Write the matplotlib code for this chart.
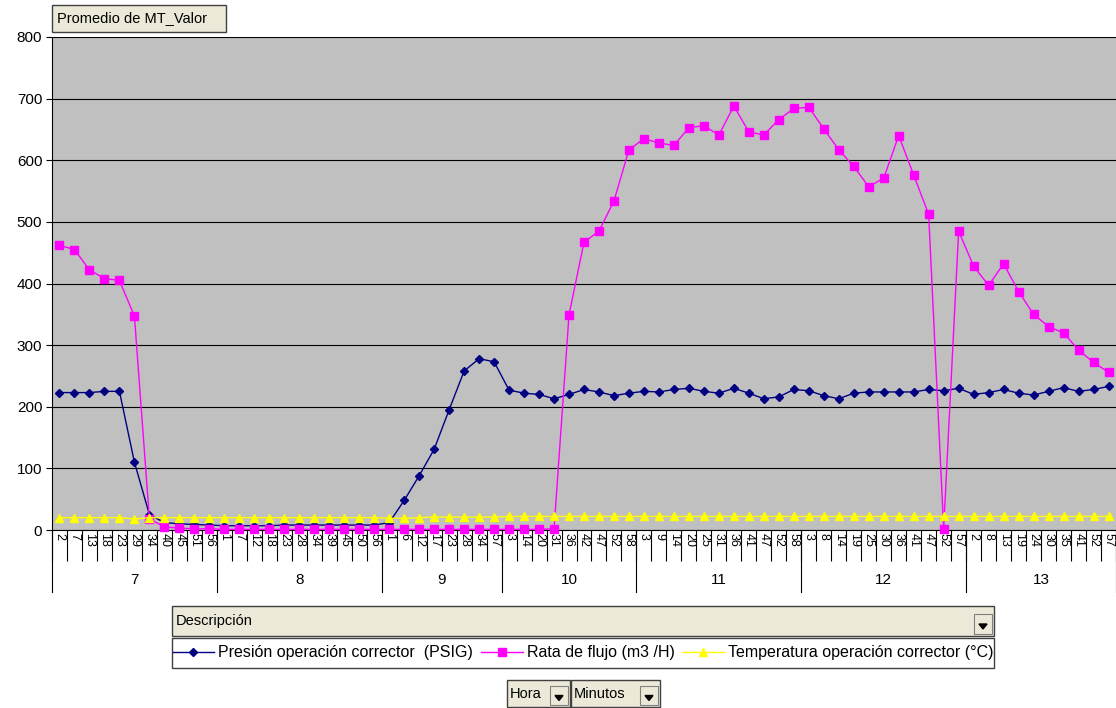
import matplotlib
matplotlib.use('Agg')
import matplotlib.pyplot as plt
from matplotlib.patches import Rectangle, Polygon
from matplotlib.lines import Line2D
import matplotlib.transforms as mtransforms

plt.rcParams['font.family'] = ['Liberation Sans', 'DejaVu Sans']

# datos del grafico dinamico (hora / minutos)
horas = [7] * 11 + [8] * 11 + [9] * 8 + [10] * 9 + [11] * 11 + [12] * 11 + [13] * 10
minutos = [2, 7, 13, 18, 23, 29, 34, 40, 45, 51, 56,
           1, 7, 12, 18, 23, 28, 34, 39, 45, 50, 56,
           1, 6, 12, 17, 23, 28, 34, 57,
           3, 14, 20, 31, 36, 42, 47, 52, 58,
           3, 9, 14, 20, 25, 31, 36, 41, 47, 52, 58,
           3, 8, 14, 19, 25, 30, 36, 41, 47, 52, 57,
           2, 8, 13, 19, 24, 30, 35, 41, 52, 57]

presion = [223, 223, 223, 225, 225, 110, 25, 12, 10, 9, 8,
           7, 7, 7, 7, 8, 8, 8, 8, 8, 8, 8,
           12, 48, 88, 131, 195, 258, 278, 273,
           227, 222, 220, 213, 220, 228, 224, 218, 222,
           225, 224, 228, 230, 225, 222, 230, 222, 213, 216, 228,
           226, 218, 213, 222, 224, 224, 224, 224, 228, 226, 230,
           220, 223, 228, 222, 219, 225, 231, 225, 228, 233]

flujo = [462, 455, 422, 408, 405, 347, 18, 5, 3, 2, 2,
         1, 1, 1, 1, 1, 1, 1, 1, 1, 1, 1,
         1, 1, 1, 1, 1, 1, 1, 1,
         1, 1, 1, 2, 349, 467, 485, 534, 617,
         635, 628, 624, 653, 656, 641, 688, 646, 641, 666, 684,
         686, 651, 617, 590, 557, 571, 640, 576, 512, 2, 485,
         428, 397, 432, 387, 350, 330, 320, 292, 272, 256]

temperatura = [20, 20, 20, 20, 20, 18, 20, 20, 20, 20, 20,
               20, 20, 20, 20, 20, 20, 20, 20, 20, 20, 20,
               19, 19, 20, 21, 21, 21, 21, 21,
               22, 22, 22, 22, 22, 22, 22, 22, 22,
               22, 22, 22, 22, 22, 22, 22, 22, 22, 22, 22,
               22, 22, 22, 22, 22, 22, 22, 22, 22, 22, 22,
               22, 22, 22, 22, 22, 22, 22, 22, 22, 22]

series = [
    ('Presión operación corrector  (PSIG)', presion, '#000080', 'D', 4),
    ('Rata de flujo (m3 /H)', flujo, '#FF00FF', 's', 5.5),
    ('Temperatura operación corrector (°C)', temperatura, '#FFFF00', '^', 6),
]

W, H = 1116, 708


def fx(px):
    return px / W


def fy(py):
    return 1 - py / H


def caja(fig, x0, y0, x1, y1, fc='#ECE9D8', ec='#404040', lw=1.0):
    r = Rectangle((fx(x0), fy(y1)), (x1 - x0) / W, (y1 - y0) / H,
                  transform=fig.transFigure, fc=fc, ec=ec, lw=lw)
    fig.add_artist(r)


def flecha(fig, x0, y0, x1, y1):
    caja(fig, x0, y0, x1, y1, fc='#ECE9D8', ec='#808080', lw=0.8)
    cx = (x0 + x1) / 2
    cy = (y0 + y1) / 2 + 2
    tri = Polygon([(fx(cx - 4), fy(cy - 2)), (fx(cx + 4), fy(cy - 2)), (fx(cx), fy(cy + 3))],
                  closed=True, transform=fig.transFigure, fc='black', ec='black')
    fig.add_artist(tri)


fig = plt.figure(figsize=(11.16, 7.08), dpi=100)
fig.patch.set_facecolor('white')
ax = fig.add_axes([fx(52), fy(530), (1116 - 52) / W, (530 - 37) / H])
ax.set_facecolor('#C0C0C0')

x = list(range(len(minutos)))
for nombre, vals, color, mk, ms in series:
    ax.plot(x, vals, color=color, lw=1.0, marker=mk, markersize=ms,
            markerfacecolor=color, markeredgecolor=color, label=nombre, clip_on=False, zorder=3)

ax.set_ylim(0, 800)
ax.set_xlim(-0.5, len(minutos) - 0.5)
ax.set_yticks(range(0, 801, 100))
ax.yaxis.grid(True, color='black', lw=0.8)
ax.set_axisbelow(True)
ax.tick_params(axis='y', labelsize=11, length=4, width=0.8, pad=3)

for s in ['top', 'right']:
    ax.spines[s].set_visible(False)
ax.spines['left'].set_linewidth(0.8)
ax.spines['bottom'].set_linewidth(0.8)

# eje de categorias de dos niveles
ax.set_xticks(x)
ax.set_xticklabels([str(m) for m in minutos], rotation=270, fontsize=9)
ax.tick_params(axis='x', which='major', length=0, pad=2)
ax.set_xticks([i - 0.5 for i in range(len(minutos) + 1)], minor=True)
ax.tick_params(axis='x', which='minor', length=22, width=0.8)

trans = mtransforms.blended_transform_factory(ax.transData, ax.transAxes)
alto = 493.0
inicio = 0
bordes = [-0.5]
for h in sorted(set(horas)):
    n = horas.count(h)
    fin = inicio + n
    ax.text((inicio + fin - 1) / 2, -50 / alto, str(h), transform=trans,
            ha='center', va='center', fontsize=11)
    bordes.append(fin - 0.5)
    inicio = fin
for b in bordes:
    ax.add_line(Line2D([b, b], [0, -62 / alto], transform=trans, color='black',
                       lw=0.8, clip_on=False))

# botones del grafico dinamico
caja(fig, 52, 5, 226, 32)
fig.text(fx(57), fy(18.5), 'Promedio de MT_Valor', fontsize=10.5, va='center', ha='left')

caja(fig, 172, 606, 994, 636)
fig.text(fx(176), fy(621), 'Descripción', fontsize=10.5, va='center', ha='left')
flecha(fig, 974, 614, 992, 634)

caja(fig, 172, 638, 994, 668, fc='white', ec='#404040')
fig.legend(loc='center', bbox_to_anchor=(fx(583), fy(653)), ncol=3, frameon=False,
           fontsize=11.5, handlelength=2.6, handletextpad=0.25, columnspacing=0.5,
           borderpad=0.2)

caja(fig, 507, 680, 570, 707)
fig.text(fx(510), fy(693.5), 'Hora', fontsize=10.5, va='center', ha='left')
flecha(fig, 550, 686, 568, 705)
caja(fig, 571, 680, 660, 707)
fig.text(fx(574), fy(693.5), 'Minutos', fontsize=10.5, va='center', ha='left')
flecha(fig, 640, 686, 658, 705)

fig.savefig('out.png', dpi=100)
